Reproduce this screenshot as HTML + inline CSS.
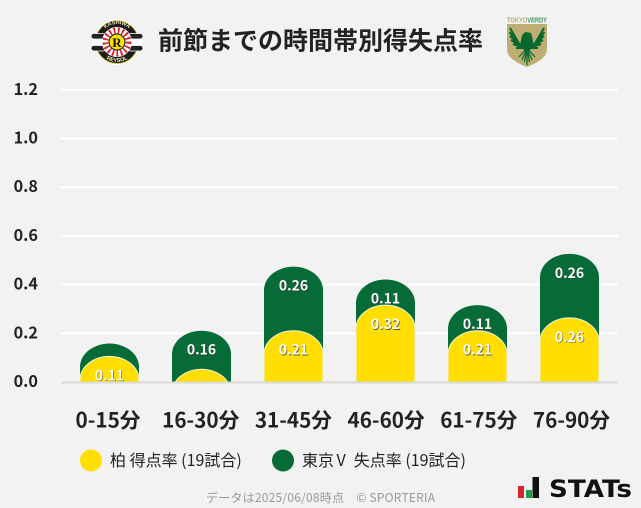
<!DOCTYPE html>
<html lang="ja">
<head>
<meta charset="utf-8">
<title>前節までの時間帯別得失点率</title>
<style>
html,body{margin:0;padding:0;background:#f2f2f2;}
body{width:641px;height:508px;overflow:hidden;}
svg{display:block;font-family:"Noto Sans CJK JP","Liberation Sans",sans-serif;}
</style>
</head>
<body>
<svg id="chart" xmlns="http://www.w3.org/2000/svg" width="641" height="508" viewBox="0 0 641 508">
  <rect width="641" height="508" fill="#f2f2f2"/>

  <g>
    <circle cx="117" cy="42" r="23" fill="#fff"/>
    <circle cx="117" cy="42" r="21.5" fill="#1c1c1c" stroke="#d8c23a" stroke-width="0.8"/>
    <rect x="92" y="38" width="50" height="8" fill="#fff"/>
    <rect x="91" y="33.5" width="15" height="5.5" rx="2.7" fill="#222" stroke="#fff" stroke-width="0.8"/>
    <rect x="128" y="33.5" width="15" height="5.5" rx="2.7" fill="#222" stroke="#fff" stroke-width="0.8"/>
    <rect x="91" y="45.5" width="15" height="5.5" rx="2.7" fill="#222" stroke="#fff" stroke-width="0.8"/>
    <rect x="128" y="45.5" width="15" height="5.5" rx="2.7" fill="#222" stroke="#fff" stroke-width="0.8"/>
    <circle cx="117" cy="42" r="15" fill="#fff"/>
    <circle cx="117" cy="42" r="11.5" fill="none" stroke="#d8232a" stroke-width="6" stroke-dasharray="1.8 2.4"/>
    <circle cx="117" cy="42" r="8" fill="#ffe100" stroke="#111" stroke-width="1"/>
    <text x="117" y="47" text-anchor="middle" font-family="'Liberation Serif',serif" font-weight="700" font-size="13" fill="#111">R</text>
    <path id="kashiwa-arc-top" d="M99 42 A18 18 0 0 1 135 42" fill="none"/>
    <path id="kashiwa-arc-bottom" d="M97 42 A20 20 0 0 0 137 42" fill="none"/>
    <text font-family="'Liberation Sans',sans-serif" font-weight="700" font-size="5.5" fill="#f4e9b0"><textPath href="#kashiwa-arc-top" startOffset="50%" text-anchor="middle">KASHIWA</textPath></text>
    <text font-family="'Liberation Sans',sans-serif" font-weight="700" font-size="5.5" fill="#f4e9b0"><textPath href="#kashiwa-arc-bottom" startOffset="50%" text-anchor="middle">REYSOL</textPath></text>
  </g>

  <text x="158" y="49.5" font-size="25" font-weight="700" fill="#222" textLength="325">前節までの時間帯別得失点率</text>

  <g>
    <text x="527" y="22.5" text-anchor="middle" font-family="'Liberation Sans',sans-serif" font-weight="700" font-size="7.5" fill="#b9ab77" textLength="40" lengthAdjust="spacingAndGlyphs">TOKYO<tspan fill="#3f9457">VERDY</tspan></text>
    <path d="M507 24 H547 V50 Q547 59 527 67 Q507 59 507 50 Z" fill="#bfae73"/>
    <path d="M520 45 L510 28 M520 45 L509.5 32 M520.5 45 L510 36 M521 46 L511 40 M522 47 L513 44 M523 48 L516 48 M534 45 L544 28 M534 45 L544.5 32 M533.5 45 L544 36 M533 46 L543 40 M532 47 L541 44 M531 48 L538 48" stroke="#07692f" stroke-width="2" fill="none"/>
    <path d="M527 48 L519 57 M527 48 L522 60 M527 48 L524.5 62 M527 48 V65 M527 48 L529.5 62 M527 48 L532 60 M527 48 L535 57" stroke="#07692f" stroke-width="1.2" fill="none"/>
    <path d="M521 40 Q522 33 526 32 L531 33 L532 36 L533 41 L534 46 L529 51 H525 L520 46 Z" fill="#07692f"/>
  </g>

  <g id="grid"></g>
  <g id="bars"></g>
  <rect x="61" y="381.5" width="557" height="2" fill="#d9d9d9"/>
  <g id="labels"></g>
  <g id="xlabels"></g>

  <g>
    <circle cx="91" cy="460.5" r="11" fill="#ffde00"/>
    <text x="110" y="466" font-size="16" fill="#222">柏 得点率 (19試合)</text>
    <circle cx="283" cy="460.5" r="11" fill="#076b38"/>
    <text x="302" y="466" font-size="16" fill="#222">東京<tspan dx="2.5">V</tspan><tspan dx="4.5"> 失点率 (19試合)</tspan></text>
  </g>

  <text x="206" y="502" font-size="12" fill="#999" textLength="229">データは2025/06/08時点　© SPORTERIA</text>

  <g>
    <rect x="518" y="486" width="6" height="12" fill="#d8232a"/>
    <rect x="526" y="490" width="6" height="8" fill="#12a04b"/>
    <rect x="532.5" y="477" width="6.5" height="21" fill="#111"/>
    <text x="549" y="497" font-family="'DejaVu Sans',sans-serif" font-weight="700" font-size="24" fill="#111" textLength="83" lengthAdjust="spacingAndGlyphs">STATs</text>
  </g>
</svg>

<script>
var categories = ["0-15分", "16-30分", "31-45分", "46-60分", "61-75分", "76-90分"];
var kashiwaRates = [0.1053, 0.0526, 0.2105, 0.3158, 0.2105, 0.2632];
var verdyRates = [0.0526, 0.1579, 0.2632, 0.1053, 0.1053, 0.2632];
var yTicks = [0, 0.2, 0.4, 0.6, 0.8, 1.0, 1.2];
var labelMinimum = 0.1;

var NS = "http://www.w3.org/2000/svg";
function yScale(v) { return 382 - v * 243.5; }
function xCenter(i) { return 109.5 + i * 92; }
function xLabelCenter(i) { return 108 + i * 92.7; }
var BAR_W = 59, RY = 23.5;

function make(tag, attrs, parent) {
  var el = document.createElementNS(NS, tag);
  for (var k in attrs) el.setAttribute(k, attrs[k]);
  parent.appendChild(el);
  return el;
}

function barPath(cx, value) {
  var rx = BAR_W / 2;
  var base = yScale(0), top = yScale(value), h = base - top;
  if (h >= RY) {
    return "M" + (cx - rx) + " " + base + " V" + (top + RY) +
      " A" + rx + " " + RY + " 0 0 1 " + (cx + rx) + " " + (top + RY) +
      " V" + base + " Z";
  }
  var t = (RY - h) / RY;
  var dx = rx * Math.sqrt(1 - t * t);
  return "M" + (cx - dx) + " " + base +
    " A" + rx + " " + RY + " 0 0 1 " + (cx + dx) + " " + base + " Z";
}

function drawValueLabel(parent, cx, y, value) {
  var shadow = make("text", {x: cx + 0.7, y: y + 0.7, "text-anchor": "middle", "font-size": 14, "font-weight": 700, fill: "#333", "fill-opacity": 0.75}, parent);
  shadow.textContent = value.toFixed(2);
  
  
  var t = make("text", {x: cx, y: y, "text-anchor": "middle", "font-size": 14, "font-weight": 700, fill: "#fff"}, parent);
  t.textContent = value.toFixed(2);
  
  
}

var grid = document.getElementById("grid");
yTicks.forEach(function (tick) {
  var y = yScale(tick);
  if (tick > 0) {
    var line = make("rect", {x: 61, y: y - 1, width: 557, height: 2, fill: "#fff"}, grid);
    
    
  }
  var label = make("text", {x: 38, y: y + 5, "text-anchor": "end", "font-size": 16.2, "font-weight": 700, fill: "#222"}, grid);
  label.textContent = tick.toFixed(1);
  
  
});

var bars = document.getElementById("bars");
var labels = document.getElementById("labels");
var xlabels = document.getElementById("xlabels");
categories.forEach(function (cat, i) {
  var cx = xCenter(i);
  var k = kashiwaRates[i], v = verdyRates[i];

  var green = make("path", {d: barPath(cx, k + v), fill: "#076b38"}, bars);
  
  

  var halo = make("path", {d: barPath(cx, k), fill: "#ffde00", stroke: "#eef3e0", "stroke-width": 1}, bars);
  
  

  if (k >= labelMinimum) drawValueLabel(labels, cx, yScale(k) + 24, k);
  if (v >= labelMinimum) drawValueLabel(labels, cx, yScale(k + v) + 24, v);

  var xl = make("text", {x: xLabelCenter(i), y: 427.5, "text-anchor": "middle", "font-size": 20.7, "font-weight": 700, fill: "#222"}, xlabels);
  xl.textContent = cat;
  
  
});
</script>
</body>
</html>
